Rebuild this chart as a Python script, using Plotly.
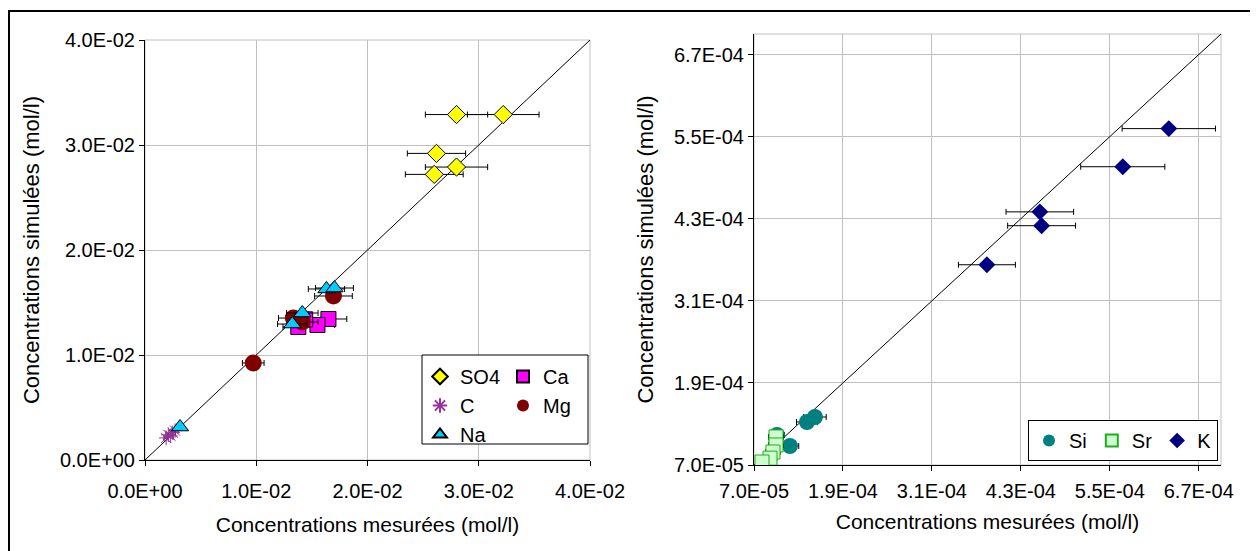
import plotly.graph_objects as go

# page body has an 8px margin: the figure is sized to fill the rest of the window
OFF = 8
W, H = 1258 - OFF, 551 - OFF

# ---------------- data: left panel (mol/l) ----------------
so4_x = [0.0280, 0.0322, 0.0262, 0.0280, 0.0260]
so4_y = [0.0329, 0.0329, 0.0292, 0.0279, 0.0272]
ca_x = [0.01649, 0.01550, 0.01440, 0.01378]
ca_y = [0.01343, 0.01286, 0.01340, 0.01267]
c_x = [0.0019, 0.0021, 0.0023, 0.0025, 0.0027]
c_y = [0.0021, 0.0024, 0.0023, 0.0026, 0.0028]
mg_x = [0.00973, 0.01694, 0.01333, 0.01414]
mg_y = [0.00924, 0.01562, 0.01352, 0.01314]
na_x = [0.00315, 0.01631, 0.01703, 0.01414, 0.01324]
na_y = [0.00314, 0.01629, 0.01638, 0.01400, 0.01295]

# ---------------- data: right panel (mol/l) ----------------
si_x = [1.415e-4, 1.522e-4, 1.010e-4, 1.185e-4]
si_y = [1.329e-4, 1.402e-4, 1.139e-4, 0.978e-4]
sr_x = [0.997e-4, 0.997e-4, 0.956e-4, 0.916e-4, 0.808e-4]
sr_y = [1.110e-4, 0.993e-4, 0.890e-4, 0.800e-4, 0.744e-4]
k_x = [6.296e-4, 5.675e-4, 4.556e-4, 4.580e-4, 3.842e-4]
k_y = [5.617e-4, 5.060e-4, 4.400e-4, 4.198e-4, 3.627e-4]

# ---------------- axes ----------------
left_ticks = [0.0, 0.01, 0.02, 0.03, 0.04]
left_range = [0.0, 0.04]
right_ticks = [7.0e-5, 1.9e-4, 3.1e-4, 4.3e-4, 5.5e-4, 6.7e-4]
right_range = [7.0e-5, 7.0e-4]
err_pct = 10

x_title = "Concentrations mesurées (mol/l)"
y_title = "Concentrations simulées (mol/l)"

FONT = "Liberation Sans, Arial, sans-serif"
GRID = "#c0c0c0"


def fmt(v):
    return f"{v:.1E}"


def pts(name, x, y, xa, ya, symbol, size, color, line_color, line_w, legend):
    return go.Scatter(
        x=x, y=y, mode="markers", name=name, xaxis=xa, yaxis=ya, legend=legend,
        marker=dict(symbol=symbol, size=size, color=color,
                    line=dict(color=line_color, width=line_w)),
        error_x=dict(type="percent", value=err_pct, color="black",
                     thickness=1, width=3),
    )


fig = go.Figure()

# diagonals y = x
fig.add_trace(go.Scatter(x=left_range, y=left_range, mode="lines",
                         line=dict(color="black", width=1), showlegend=False,
                         xaxis="x", yaxis="y", hoverinfo="skip"))
fig.add_trace(go.Scatter(x=right_range, y=right_range, mode="lines",
                         line=dict(color="black", width=1), showlegend=False,
                         xaxis="x2", yaxis="y2", hoverinfo="skip"))

# left panel
fig.add_trace(pts("SO4", so4_x, so4_y, "x", "y", "diamond", 14, "#FFFF00", "black", 1, "legend"))
fig.add_trace(pts("C", c_x, c_y, "x", "y", "asterisk-open", 12, "#993399", "#993399", 1, "legend"))
fig.add_trace(pts("Ca", ca_x, ca_y, "x", "y", "square", 15, "#FF00FF", "black", 1, "legend2"))
fig.add_trace(pts("Mg", mg_x, mg_y, "x", "y", "circle", 17, "#800000", "#800000", 0, "legend2"))
fig.add_trace(pts("Na", na_x, na_y, "x", "y", "triangle-up", 15, "#00CCFF", "black", 1, "legend"))

# right panel
fig.add_trace(pts("Si", si_x, si_y, "x2", "y2", "circle", 16, "#008080", "#008080", 0, "legend3"))
fig.add_trace(pts("Sr", sr_x, sr_y, "x2", "y2", "square", 14, "#CCFFCC", "#22AA22", 1, "legend3"))
fig.add_trace(pts("K", k_x, k_y, "x2", "y2", "diamond", 13, "#000080", "#000080", 0, "legend3"))


def px_x(p):
    return (p - OFF) / W


def px_y(p):
    return (H - (p - OFF)) / H


axis_common = dict(
    showline=True, linecolor="black", linewidth=1, mirror=False, automargin=False,
    showgrid=True, gridcolor=GRID, gridwidth=1, zeroline=False,
    ticks="outside", ticklen=5, tickcolor="black", tickwidth=1,
    tickfont=dict(family=FONT, size=20, color="black"),
)

legend_common = dict(itemwidth=30, itemsizing="constant",
                     font=dict(family=FONT, size=20, color="black"))

fig.update_layout(
    width=W, height=H,
    margin=dict(l=0, r=0, t=0, b=0, pad=0, autoexpand=False),
    paper_bgcolor="white", plot_bgcolor="white",
    font=dict(family=FONT, size=20, color="black"),
    xaxis=dict(domain=[px_x(145), px_x(590)], range=left_range, anchor="y",
               tickvals=left_ticks, ticktext=[fmt(v) for v in left_ticks],
               ticklabelstandoff=8,
               title=dict(text=x_title, font=dict(size=21), standoff=16), **axis_common),
    yaxis=dict(domain=[px_y(460), px_y(40)], range=left_range, anchor="x",
               tickvals=left_ticks, ticktext=[fmt(v) for v in left_ticks],
               title=dict(text=y_title, font=dict(size=22), standoff=14), **axis_common),
    xaxis2=dict(domain=[px_x(754), px_x(1221)], range=right_range, anchor="y2",
                tickvals=right_ticks, ticktext=[fmt(v) for v in right_ticks],
                ticklabelstandoff=3,
                title=dict(text=x_title, font=dict(size=21), standoff=13), **axis_common),
    yaxis2=dict(domain=[px_y(465), px_y(34)], range=right_range, anchor="x2",
                tickvals=right_ticks, ticktext=[fmt(v) for v in right_ticks],
                title=dict(text=y_title, font=dict(size=22), standoff=14), **axis_common),
    legend=dict(x=px_x(420), y=px_y(357), xanchor="left", yanchor="top",
                bgcolor="rgba(0,0,0,0)", borderwidth=0, tracegroupgap=0,
                traceorder="normal", **legend_common),
    legend2=dict(x=px_x(503), y=px_y(357), xanchor="left", yanchor="top",
                 bgcolor="rgba(0,0,0,0)", borderwidth=0, tracegroupgap=0,
                 traceorder="normal", **legend_common),
    legend3=dict(x=px_x(1218), y=px_y(461), xanchor="right", yanchor="bottom",
                 orientation="h", bgcolor="white", bordercolor="black", borderwidth=1,
                 **legend_common),
    shapes=[
        # outer frame
        dict(type="rect", xref="paper", yref="paper", x0=px_x(9), x1=px_x(1255),
             y0=-0.1, y1=px_y(11), line=dict(color="black", width=2), layer="below"),
        # plot area edges (gray)
        dict(type="rect", xref="x domain", yref="y domain", x0=0, x1=1, y0=0, y1=1,
             line=dict(color=GRID, width=1), layer="below"),
        dict(type="rect", xref="x2 domain", yref="y2 domain", x0=0, x1=1, y0=0, y1=1,
             line=dict(color=GRID, width=1), layer="below"),
        # left legend box
        dict(type="rect", xref="paper", yref="paper", x0=px_x(422), x1=px_x(588),
             y0=px_y(444), y1=px_y(355), line=dict(color="black", width=1),
             fillcolor="white", layer="above"),
    ],
)

fig.write_html("out.html")
